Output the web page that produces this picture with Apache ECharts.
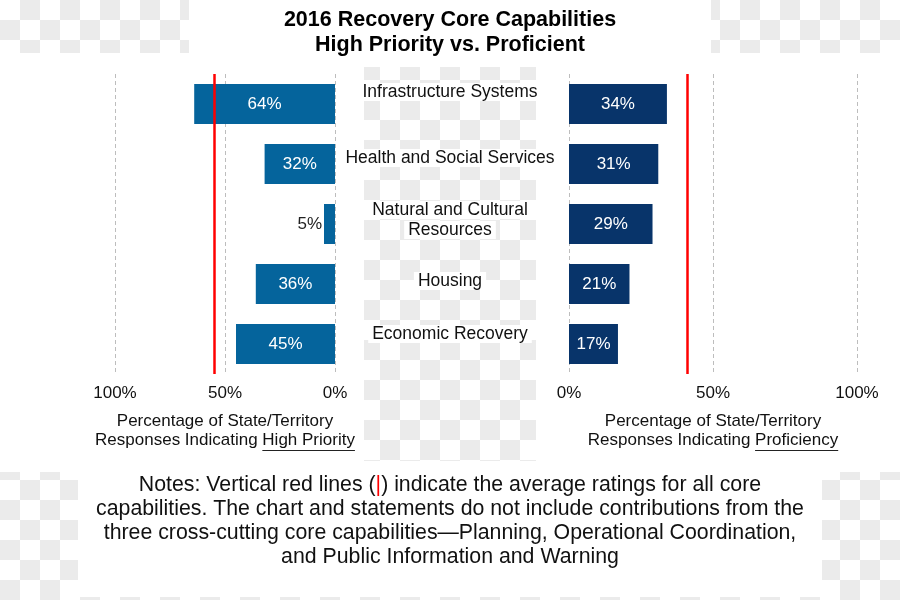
<!DOCTYPE html>
<html>
<head>
<meta charset="utf-8">
<script src="https://cdn.jsdelivr.net/npm/echarts@6/dist/echarts.min.js"></script>
<style>
html,body{margin:0;padding:0;}
body{width:900px;height:600px;position:relative;overflow:hidden;
 background-color:#fff;
 background-image:conic-gradient(#ebebeb 25%, #fff 0 50%, #ebebeb 0 75%, #fff 0);
 background-size:40px 40px;}
.w{position:absolute;background:#fff;}
#chart{position:absolute;left:0;top:0;width:900px;height:600px;}
</style>
</head>
<body>
<div class="w" style="left:189px;top:0;width:522px;height:54px"></div>
<div class="w" style="left:0;top:53px;width:364px;height:419px"></div>
<div class="w" style="left:536px;top:53px;width:364px;height:419px"></div>
<div class="w" style="left:364px;top:53px;width:172px;height:14px"></div>
<div class="w" style="left:78px;top:461px;width:744px;height:136px"></div>
<div id="chart"></div>
<script>
// ---- data ----
const categories = ['Infrastructure Systems', 'Health and Social Services', 'Natural and Cultural\nResources', 'Housing', 'Economic Recovery'];
const highPriority = [64, 32, 5, 36, 45];
const proficiency = [34, 31, 29, 21, 17];
const averageRatings = [55, 41];            // [high priority avg, proficiency avg]
const axisTicks = [0, 50, 100];
const titleText = ['2016 Recovery Core Capabilities', 'High Priority vs. Proficient'];
const leftAxisName = ['Percentage of State/Territory', 'Responses Indicating ', 'High Priority'];
const rightAxisName = ['Percentage of State/Territory', 'Responses Indicating ', 'Proficiency'];
const notesLines = [
  'Notes: Vertical red lines ({r||}) indicate the average ratings for all core',
  'capabilities. The chart and statements do not include contributions from the',
  'three cross-cutting core capabilities\u2014Planning, Operational Coordination,',
  'and Public Information and Warning'
];

// ---- styles ----
const FONT = '"Liberation Sans", Arial, sans-serif';
const labelLift = [12, 6, 4, 3, 10];
const leftColor = '#05649c';
const rightColor = '#08346a';
const G = { lLeft: 115, lWidth: 220, rLeft: 569, rWidth: 288, top: 74, height: 300 };
const CAT_FS = 17.5;

const chart = echarts.init(document.getElementById('chart'), null, { renderer: 'canvas' });

const catRich = {
  c: {
    fontSize: CAT_FS, lineHeight: 20, color: '#111', fontFamily: FONT,
    backgroundColor: '#fff', padding: [0, 4, 0, 4], align: 'center'
  }
};
labelLift.forEach((d, i) => {
  catRich['s' + i] = { fontSize: 1, lineHeight: 2 * d, height: 2 * d, align: 'center' };
});

function xAxisCfg(gridIndex, inverse, nameLines) {
  return {
    gridIndex, type: 'value', min: axisTicks[0], max: axisTicks[axisTicks.length - 1],
    interval: axisTicks[1] - axisTicks[0], inverse,
    axisLine: { show: false }, axisTick: { show: false },
    splitLine: { show: true, lineStyle: { color: '#bdbdbd', type: [4, 3], width: 1 } },
    axisLabel: { formatter: '{value}%', fontSize: 17, color: '#111', margin: 11, fontFamily: FONT },
    name: nameLines[0] + '\n' + nameLines[1] + nameLines[2],
    nameLocation: 'middle', nameGap: 38,
    nameTextStyle: { fontSize: 17, lineHeight: 19, color: '#111', fontFamily: FONT, verticalAlign: 'top' }
  };
}

chart.setOption({
  animation: false,
  backgroundColor: 'transparent',
  textStyle: { fontFamily: FONT },
  title: [
    {
      text: titleText.join('\n'), left: 'center', top: 3,
      textStyle: { fontSize: 21.5, fontWeight: 'bold', lineHeight: 25, color: '#000', fontFamily: FONT }
    },
    {
      text: notesLines.join('\n'), left: 'center', top: 468,
      textStyle: {
        fontSize: 21.3, fontWeight: 'normal', lineHeight: 24, color: '#111', fontFamily: FONT,
        rich: { r: { color: '#ff0000', fontSize: 21.3, fontFamily: FONT } }
      }
    }
  ],
  grid: [
    { left: G.lLeft, width: G.lWidth, top: G.top, height: G.height },
    { left: G.rLeft, width: G.rWidth, top: G.top, height: G.height }
  ],
  xAxis: [xAxisCfg(0, true, leftAxisName), xAxisCfg(1, false, rightAxisName)],
  yAxis: [
    {
      gridIndex: 0, type: 'category', data: categories, inverse: true, position: 'right',
      axisLine: { show: false }, axisTick: { show: false }, axisLabel: { show: false }, splitLine: { show: false }
    },
    {
      gridIndex: 1, type: 'category', data: categories, inverse: true, position: 'left',
      axisLine: { show: false }, axisTick: { show: false }, splitLine: { show: false },
      axisLabel: {
        show: true, align: 'center', margin: 119, fontSize: CAT_FS, lineHeight: 20, color: '#111',
        fontFamily: FONT,
        formatter: function (v, i) {
          const lines = v.split('\n').map(p => '{c|' + p + '}');
          lines.push('{s' + i + '| }');   // transparent spacer lifts the text block
          return lines.join('\n');
        },
        rich: catRich
      }
    }
  ],
  series: [
    {
      type: 'bar', xAxisIndex: 0, yAxisIndex: 0, barWidth: 40,
      itemStyle: { color: leftColor },
      data: highPriority.map(v => v < 10
        ? { value: v, label: { position: 'left', color: '#222', distance: 2 } }
        : v),
      label: { show: true, position: 'inside', color: '#fff', fontSize: 17, formatter: '{c}%', fontFamily: FONT },
      markLine: {
        silent: true, symbol: ['none', 'none'], label: { show: false },
        lineStyle: { color: '#ff0000', width: 2.5, type: 'solid' },
        data: [{ xAxis: averageRatings[0] }]
      }
    },
    {
      type: 'bar', xAxisIndex: 1, yAxisIndex: 1, barWidth: 40,
      itemStyle: { color: rightColor },
      data: proficiency,
      label: { show: true, position: 'inside', color: '#fff', fontSize: 17, formatter: '{c}%', fontFamily: FONT },
      markLine: {
        silent: true, symbol: ['none', 'none'], label: { show: false },
        lineStyle: { color: '#ff0000', width: 2.5, type: 'solid' },
        data: [{ xAxis: averageRatings[1] }]
      }
    }
  ]
});

// underline the emphasized words of the axis names
(function () {
  const ctx = document.createElement('canvas').getContext('2d');
  ctx.font = '17px ' + FONT;
  function underline(cx, parts) {
    const full = ctx.measureText(parts[1] + parts[2]).width;
    const pre = ctx.measureText(parts[1]).width;
    const w = ctx.measureText(parts[2]).width;
    const x0 = cx - full / 2 + pre;
    return { type: 'line', silent: true, z: 10,
      shape: { x1: x0, y1: 450.5, x2: x0 + w, y2: 450.5 },
      style: { stroke: '#222', lineWidth: 1 } };
  }
  chart.setOption({
    graphic: [
      underline(G.lLeft + G.lWidth / 2, leftAxisName),
      underline(G.rLeft + G.rWidth / 2, rightAxisName)
    ]
  });
})();
</script>
</body>
</html>
